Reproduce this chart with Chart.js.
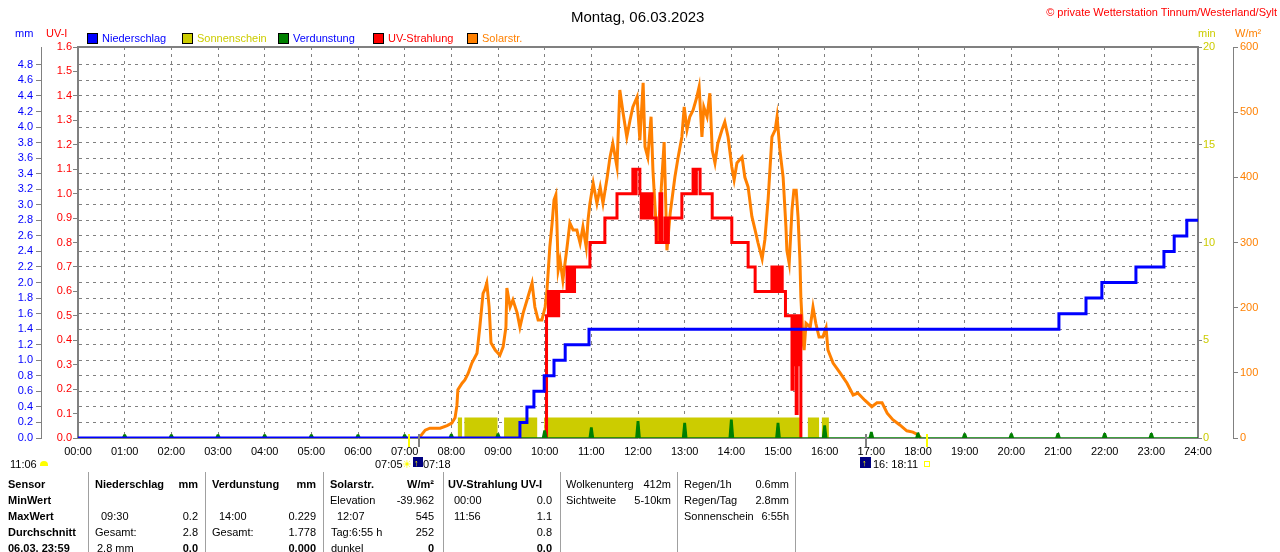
<!DOCTYPE html>
<html>
<head>
<meta charset="utf-8">
<script src="https://cdn.jsdelivr.net/npm/chart.js@4.4.0/dist/chart.umd.min.js"></script>
<style>
  body { margin: 0; background: #fff; }
  #wrap { position: relative; width: 1280px; height: 552px; overflow: hidden; font-family: 'Liberation Sans', Arial, sans-serif; font-size: 11px; }
  #c { position: absolute; left: 0; top: 0; }
  .t { position: absolute; line-height: 14px; white-space: nowrap; }
  .b { font-weight: bold; }
  .sep { position: absolute; top: 472px; width: 1px; height: 80px; background: #a0a0a0; }
  .box { position: absolute; width: 9px; height: 9px; border: 1px solid #000; }
</style>
</head>
<body>
<div id="wrap">
  <canvas id="c" width="1280" height="552"></canvas>
</div>
<script>
// x axis: hours of the day
const hourLabels = ['00:00','01:00','02:00','03:00','04:00','05:00','06:00','07:00','08:00','09:00','10:00','11:00','12:00',
  '13:00','14:00','15:00','16:00','17:00','18:00','19:00','20:00','21:00','22:00','23:00','24:00'];

// Niederschlag (mm, cumulative, stepped)
const rainTimes  = [0, 9.47, 9.62, 9.77, 9.99, 10.2, 10.44, 10.95, 21.02, 21.6, 21.94, 22.67, 23.27, 23.49, 23.76, 24];
const rainValues = [0, 0.2, 0.4, 0.6, 0.8, 1.0, 1.2, 1.4, 1.6, 1.8, 2.0, 2.2, 2.4, 2.6, 2.8, 2.8];

// Verdunstung (mm per hour)
const evapHours  = [1, 2, 3, 4, 5, 6, 7, 8, 9, 10, 11, 12, 13, 14, 15, 16, 17, 18, 19, 20, 21, 22, 23];
const evapValues = [0.04, 0.04, 0.04, 0.04, 0.04, 0.04, 0.04, 0.045, 0.05, 0.09, 0.13, 0.21, 0.185, 0.229, 0.185, 0.155,
  0.07, 0.06, 0.05, 0.05, 0.055, 0.055, 0.055];

// UV-Strahlung (UV-I, stepped)
const uvTimes  = [10.03, 10.04, 10.08, 10.11, 10.15, 10.18, 10.22, 10.26, 10.3, 10.48, 10.52, 10.56, 10.6, 10.64, 10.97, 11.29,
  11.55, 11.89, 11.93, 11.96, 12.04, 12.07, 12.1, 12.14, 12.18, 12.22, 12.26, 12.3, 12.39, 12.47, 12.51, 12.58, 12.61, 12.65,
  12.94, 13.18, 13.22, 13.25, 13.33, 13.59, 14.01, 14.36, 14.51, 14.87, 14.91, 14.95, 14.99, 15.03, 15.09, 15.16, 15.3, 15.32,
  15.34, 15.36, 15.39, 15.41, 15.45, 15.47, 15.49];
const uvValues = [0, 0.5, 0.6, 0.5, 0.6, 0.5, 0.6, 0.5, 0.6, 0.7, 0.6, 0.7, 0.6, 0.7, 0.8, 0.9,
  1.0, 1.1, 1.0, 1.1, 1.0, 0.9, 1.0, 0.9, 1.0, 0.9, 1.0, 0.9, 0.8, 1.0, 0.8, 0.9, 0.8, 0.9,
  1.0, 1.1, 1.0, 1.1, 1.0, 0.9, 0.8, 0.7, 0.6, 0.7, 0.6, 0.7, 0.6, 0.7, 0.6, 0.5, 0.2, 0.5,
  0.3, 0.5, 0.1, 0.5, 0.3, 0.5, 0];

// Solarstrahlung (W/m²)
const solarTimes = [7.29, 7.33, 7.44, 7.54, 7.76, 7.91, 8.01, 8.08, 8.12, 8.14, 8.23, 8.29, 8.36, 8.44, 8.55, 8.61, 8.68, 8.72,
  8.76, 8.81, 8.85, 8.94, 9.04, 9.11, 9.17, 9.19, 9.26, 9.32, 9.41, 9.47, 9.54, 9.64, 9.73, 9.79, 9.86, 9.94, 10.01, 10.05,
  10.11, 10.16, 10.2, 10.24, 10.26, 10.29, 10.33, 10.39, 10.48, 10.54, 10.61, 10.69, 10.76, 10.82, 10.89, 10.93, 10.97, 11.04,
  11.12, 11.19, 11.25, 11.34, 11.4, 11.46, 11.55, 11.61, 11.68, 11.76, 11.83, 11.89, 11.98, 12.04, 12.11, 12.15, 12.21, 12.28,
  12.32, 12.41, 12.47, 12.56, 12.62, 12.69, 12.79, 12.86, 12.94, 12.99, 13.05, 13.11, 13.18, 13.26, 13.31, 13.37, 13.41, 13.48,
  13.54, 13.59, 13.65, 13.71, 13.8, 13.86, 13.93, 14.01, 14.06, 14.12, 14.23, 14.29, 14.36, 14.44, 14.51, 14.57, 14.66, 14.72,
  14.79, 14.87, 14.94, 14.98, 15.04, 15.11, 15.17, 15.19, 15.24, 15.3, 15.34, 15.39, 15.43, 15.47, 15.49, 15.54, 15.56, 15.6,
  15.69, 15.75, 15.81, 15.88, 15.96, 16.03, 16.07, 16.18, 16.33, 16.48, 16.61, 16.71, 16.86, 17.01, 17.12, 17.23, 17.34, 17.46,
  17.61, 17.76, 17.89, 18.0, 18.06];
const solarValues = [0, 2, 12, 15, 15, 19, 23, 31, 50, 74, 84, 89, 99, 115, 130, 170, 222, 228,
  238, 201, 146, 135, 127, 140, 170, 230, 201, 212, 192, 170, 192, 216, 238, 201, 181, 181, 201, 227,
  293, 330, 365, 373, 335, 258, 273, 242, 293, 330, 319, 319, 299, 324, 293, 335, 360, 391,
  360, 385, 360, 400, 431, 452, 416, 534, 499, 462, 488, 508, 523, 457, 545, 447, 431, 493,
  411, 299, 350, 454, 288, 345, 400, 431, 462, 508, 473, 493, 503, 523, 539, 462, 508, 493,
  529, 442, 422, 452, 473, 485, 462, 416, 396, 422, 431, 400, 385, 340, 319, 300, 275, 305,
  368, 462, 473, 493, 442, 400, 324, 288, 268, 350, 380, 380, 339, 273, 216, 146, 135, 176,
  170, 201, 176, 155, 155, 169, 135, 115, 100, 84, 66, 69, 58, 48, 54, 54, 38, 28,
  20, 11, 9, 5, 0];

// Sonnenschein (min), sunny intervals
const sunStart = [8.14, 8.28, 9.13, 9.99, 15.64, 15.94];
const sunEnd   = [8.23, 8.99, 9.84, 15.5, 15.88, 16.09];
const sunLevel = [1.05, 1.05, 1.05, 1.05, 1.05, 1.05];

// Sonnenauf-/untergang und Mond
const sunMarks  = [7.083, 18.183];
const moonMarks = [7.3, 16.886];

const FONT = "'Liberation Sans', Arial, sans-serif";
const gray = '#808080';
const tickFont = { family: FONT, size: 11 };

const pts = (xs, ys) => xs.map((x, i) => ({ x: x, y: ys[i] }));

const sunData = [{ x: 0, y: 0 }];
sunStart.forEach((s, i) => { sunData.push({ x: s, y: sunLevel[i] }, { x: sunEnd[i], y: 0 }); });
sunData.push({ x: 24, y: 0 });

const evapData = [{ x: 0, y: 0 }];
evapHours.forEach((h, i) => {
  evapData.push({ x: h - 0.045, y: 0 }, { x: h - 0.015, y: evapValues[i] }, { x: h + 0.015, y: evapValues[i] }, { x: h + 0.045, y: 0 });
});
evapData.push({ x: 24, y: 0 });

const extras = {
  id: 'extras',
  afterDraw(chart) {
    const ctx = chart.ctx, a = chart.chartArea, xs = chart.scales.x;
    ctx.save();
    ctx.strokeStyle = gray;
    ctx.lineWidth = 2;
    ctx.beginPath();
    ctx.moveTo(a.left - 1, a.top);
    ctx.lineTo(a.right + 1, a.top);
    ctx.stroke();
    sunMarks.forEach(t => {
      ctx.fillStyle = '#ffff00';
      ctx.fillRect(Math.round(xs.getPixelForValue(t)) - 1, a.bottom - 4, 2, 13);
    });
    moonMarks.forEach(t => {
      ctx.fillStyle = gray;
      ctx.fillRect(Math.round(xs.getPixelForValue(t)) - 1, a.bottom - 4, 2, 13);
    });
    ctx.restore();
  }
};

new Chart(document.getElementById('c'), {
  type: 'line',
  data: {
    datasets: [
      { label: 'Niederschlag', data: pts(rainTimes, rainValues), yAxisID: 'mm', stepped: true,
        borderColor: '#0000ff', borderWidth: 3, pointRadius: 0, order: 0 },
      { label: 'Verdunstung', data: evapData, yAxisID: 'mm', borderColor: '#008000', backgroundColor: '#008000',
        fill: 'origin', borderWidth: 1.5, pointRadius: 0, order: 1 },
      { label: 'UV-Strahlung', data: pts(uvTimes, uvValues), yAxisID: 'uv', stepped: true,
        borderColor: '#ff0000', borderWidth: 3, pointRadius: 0, order: 2 },
      { label: 'Solarstr.', data: pts(solarTimes, solarValues), yAxisID: 'w',
        borderColor: '#ff8000', borderWidth: 3, pointRadius: 0, order: 3 },
      { label: 'Sonnenschein', data: sunData, yAxisID: 'min', stepped: true, fill: 'origin',
        backgroundColor: '#cccc00', borderWidth: 0, pointRadius: 0, order: 4 }
    ]
  },
  options: {
    responsive: false,
    animation: false,
    devicePixelRatio: 1,
    layout: { padding: { top: 47, bottom: 92, left: 0, right: 0 } },
    plugins: { legend: { display: false }, tooltip: { enabled: false } },
    scales: {
      x: {
        type: 'linear', position: 'bottom', min: 0, max: 24,
        afterFit: s => { s.height = 22; },
        ticks: { stepSize: 1, autoSkip: false, maxRotation: 0, color: '#000', font: tickFont, padding: 7,
          callback: v => hourLabels[v] },
        grid: { color: gray, drawTicks: false },
        border: { color: gray, width: 1, dash: [3, 4] }
      },
      uv: {
        position: 'left', weight: 0, min: 0, max: 1.6,
        afterFit: s => { s.width = 37; },
        ticks: { stepSize: 0.1, autoSkip: false, color: '#ff0000', font: tickFont, padding: 1, callback: v => v.toFixed(1) },
        grid: { drawOnChartArea: false, tickLength: 5, color: gray },
        border: { color: gray, width: 2 }
      },
      mm: {
        position: 'left', weight: 1, min: 0, max: 5.03,
        afterFit: s => { s.width = 41; },
        afterBuildTicks: s => { s.ticks = s.ticks.filter(t => t.value < 4.85); },
        ticks: { stepSize: 0.2, autoSkip: false, color: '#0000ff', font: tickFont, padding: 3, callback: v => v.toFixed(1) },
        grid: { color: gray, tickLength: 5 },
        border: { color: gray, width: 1, dash: [3, 4] }
      },
      min: {
        position: 'right', weight: 0, min: 0, max: 20,
        afterFit: s => { s.width = 35; },
        ticks: { stepSize: 5, color: '#cccc00', font: tickFont, padding: 1 },
        grid: { drawOnChartArea: false, tickLength: 4, color: gray },
        border: { color: gray, width: 2 }
      },
      w: {
        position: 'right', weight: 1, min: 0, max: 600,
        afterFit: s => { s.width = 47; },
        ticks: { stepSize: 100, color: '#ff8000', font: tickFont, padding: 2 },
        grid: { drawOnChartArea: false, tickLength: 5, color: gray },
        border: { color: gray, width: 1 }
      }
    }
  },
  plugins: [extras]
});

// texts around the chart
const wrap = document.getElementById('wrap');
function t(x, y, s, o) {
  o = o || {};
  const d = document.createElement('div');
  d.className = 't' + (o.b ? ' b' : '');
  d.textContent = s;
  d.style.top = (y - 7) + 'px';
  if (o.r) d.style.right = (1280 - x) + 'px'; else d.style.left = x + 'px';
  if (o.c) d.style.color = o.c;
  if (o.size) { d.style.fontSize = o.size + 'px'; d.style.lineHeight = (o.size + 4) + 'px'; d.style.top = (y - (o.size + 4) / 2) + 'px'; }
  wrap.appendChild(d);
  return d;
}
function box(x, y, w, h, css) {
  const d = document.createElement('div');
  d.style.position = 'absolute';
  d.style.left = x + 'px'; d.style.top = y + 'px';
  d.style.width = w + 'px'; d.style.height = h + 'px';
  Object.assign(d.style, css || {});
  wrap.appendChild(d);
  return d;
}

t(571, 16, 'Montag, 06.03.2023', { size: 15 });
t(1277, 12, '© private Wetterstation Tinnum/Westerland/Sylt', { r: 1, c: '#ff0000' });

t(15, 33, 'mm', { c: '#0000ff' });
t(46, 33, 'UV-I', { c: '#ff0000' });
t(1198, 33, 'min', { c: '#cccc00' });
t(1235, 33, 'W/m²', { c: '#ff8000' });

const legendItems = [
  ['Niederschlag', '#0000ff', '#0000ff', 87],
  ['Sonnenschein', '#cccc00', '#cccc00', 182],
  ['Verdunstung', '#008000', '#0000ff', 278],
  ['UV-Strahlung', '#ff0000', '#ff0000', 373],
  ['Solarstr.', '#ff8000', '#ff8000', 467]
];
legendItems.forEach(l => {
  const b = box(l[3], 33, 9, 9, { border: '1px solid #000', background: l[1] });
  t(l[3] + 15, 38, l[0], { c: l[2] });
});

// under the x axis: day length, sun and moon times
t(10, 464, '11:06');
box(40, 461, 8, 5, { background: '#ffff00', borderRadius: '4px 4px 0 0' });
t(375, 464, '07:05');
t(402, 464, '☀', { c: '#ffff00' });
box(413, 457, 10, 10, { background: '#000080' });
t(414, 463, '↑', { c: '#ffff00', size: 9 });
t(423, 464, '07:18');
box(860, 457, 11, 11, { background: '#000080' });
t(862, 463, '↑', { c: '#ffff00', size: 9 });
t(873, 464, '16: 18:11');
box(924, 461, 4, 4, { border: '1px solid #ffff00' });

// table
[88, 205, 323, 443, 560, 677, 795].forEach(x => box(x, 472, 1, 80, { background: '#a0a0a0' }));
const B = { b: 1 }, R = { r: 1 }, BR = { b: 1, r: 1 };
t(8, 484, 'Sensor', B); t(8, 500, 'MinWert', B); t(8, 516, 'MaxWert', B); t(8, 532, 'Durchschnitt', B); t(8, 548, '06.03. 23:59', B);
t(95, 484, 'Niederschlag', B); t(198, 484, 'mm', BR); t(101, 516, '09:30'); t(198, 516, '0.2', R);
t(95, 532, 'Gesamt:'); t(198, 532, '2.8', R); t(97, 548, '2.8 mm'); t(198, 548, '0.0', BR);
t(212, 484, 'Verdunstung', B); t(316, 484, 'mm', BR); t(219, 516, '14:00'); t(316, 516, '0.229', R);
t(212, 532, 'Gesamt:'); t(316, 532, '1.778', R); t(316, 548, '0.000', BR);
t(330, 484, 'Solarstr.', B); t(434, 484, 'W/m²', BR); t(330, 500, 'Elevation'); t(434, 500, '-39.962', R);
t(337, 516, '12:07'); t(434, 516, '545', R); t(331, 532, 'Tag:6:55 h'); t(434, 532, '252', R);
t(331, 548, 'dunkel'); t(434, 548, '0', BR);
t(448, 484, 'UV-Strahlung UV-I', B); t(454, 500, '00:00'); t(552, 500, '0.0', R); t(454, 516, '11:56'); t(552, 516, '1.1', R);
t(552, 532, '0.8', R); t(552, 548, '0.0', BR);
t(566, 484, 'Wolkenunterg'); t(671, 484, '412m', R); t(566, 500, 'Sichtweite'); t(671, 500, '5-10km', R);
t(684, 484, 'Regen/1h'); t(789, 484, '0.6mm', R); t(684, 500, 'Regen/Tag'); t(789, 500, '2.8mm', R);
t(684, 516, 'Sonnenschein'); t(789, 516, '6:55h', R);
</script>
</body>
</html>
